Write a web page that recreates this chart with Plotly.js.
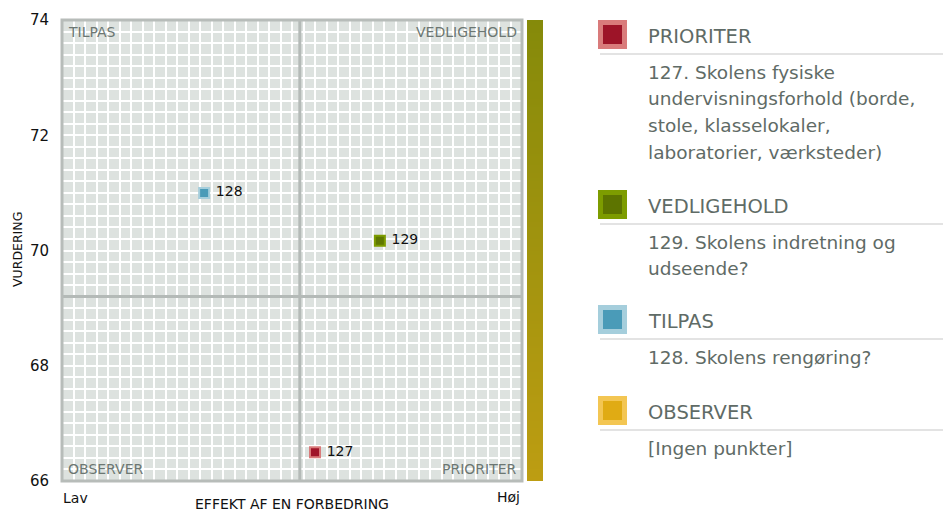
<!DOCTYPE html>
<html>
<head>
<meta charset="utf-8">
<script src="https://cdn.plot.ly/plotly-3.0.1.min.js"></script>
<style>html,body{margin:0;padding:0;background:#fff;}#chart{width:943px;height:511px;}</style>
</head>
<body>
<div id="chart"></div>
<script>
// ---- data ----
const pointLabels = ['127', '128', '129'];
const effekt = [55.0, 30.9, 69.1];          // x: effekt af en forbedring (0-100 scale, Lav..Høj)
const vurdering = [66.5, 71.0, 70.17];      // y: vurdering
const pointFill = ['#a01429', '#4a9bb8', '#5f7800'];
const pointEdge = ['#d97b7b', '#a5cedc', '#7d9c00'];

const midX = 51.7;   // vertical divider (effekt)
const midY = 69.2;   // horizontal divider (vurdering)
const yTicks = [66, 68, 70, 72, 74];

const quadrants = ['TILPAS', 'VEDLIGEHOLD', 'OBSERVER', 'PRIORITER'];

const legendNames = ['PRIORITER', 'VEDLIGEHOLD', 'TILPAS', 'OBSERVER'];
const legendFill = ['#9d1428', '#5d7400', '#4a9bb8', '#e0ab14'];
const legendEdge = ['#d97b7b', '#7d9c00', '#a5cedc', '#f3c653'];
const legendItems = [
  ['127. Skolens fysiske', 'undervisningsforhold (borde,', 'stole, klasselokaler,', 'laboratorier, værksteder)'],
  ['129. Skolens indretning og', 'udseende?'],
  ['128. Skolens rengøring?'],
  ['[Ingen punkter]']
];
const legendTop = [20, 190, 305, 396];   // top px of each legend square

const W = 943, H = 511;
const px = v => v / W;
const py = v => 1 - v / H;
const FONT = 'DejaVu Sans, Verdana, sans-serif';
const TXT = '#5f6b66';

const traces = [
  {
    type: 'heatmap', xaxis: 'x2', yaxis: 'y2',
    x: [0], y: [0, 1], z: [[0], [1]],
    colorscale: [[0, '#bd9d12'], [1, '#858a0a']],
    zsmooth: 'best', showscale: false, hoverinfo: 'skip'
  },
  {
    type: 'scatter', mode: 'markers+text',
    x: effekt, y: vurdering, text: pointLabels.map(s => ' ' + s),
    textposition: 'middle right',
    textfont: {family: FONT, size: 14, color: '#111'},
    marker: {symbol: 'square', size: 10, color: pointFill, line: {color: pointEdge, width: 2}},
    hoverinfo: 'none', cliponaxis: false
  }
];

const shapes = [
  {type: 'line', xref: 'x', yref: 'y domain', x0: midX, x1: midX, y0: 0, y1: 1, line: {color: '#b4bab7', width: 3}, layer: 'above'},
  {type: 'line', xref: 'x domain', yref: 'y', x0: 0, x1: 1, y0: midY, y1: midY, line: {color: '#b4bab7', width: 3}, layer: 'above'},
  {type: 'rect', xref: 'x domain', yref: 'y domain', x0: 0, x1: 1, y0: 0, y1: 1, line: {color: '#b7bcb9', width: 3}, layer: 'above'}
];

const annotations = [
  {text: quadrants[0], xref: 'paper', yref: 'paper', x: px(66), y: py(32), xanchor: 'left', yanchor: 'middle'},
  {text: quadrants[1], xref: 'paper', yref: 'paper', x: px(519), y: py(32), xanchor: 'right', yanchor: 'middle'},
  {text: quadrants[2], xref: 'paper', yref: 'paper', x: px(66), y: py(469), xanchor: 'left', yanchor: 'middle'},
  {text: quadrants[3], xref: 'paper', yref: 'paper', x: px(519), y: py(469), xanchor: 'right', yanchor: 'middle'}
].map(a => Object.assign(a, {showarrow: false, font: {family: FONT, size: 14, color: '#6c7772'}}));

annotations.push(
  {text: 'Lav', x: px(61), y: py(498), xanchor: 'left', yanchor: 'middle', size: 14},
  {text: 'Høj', x: px(522), y: py(497), xanchor: 'right', yanchor: 'middle', size: 14},
  {text: 'EFFEKT AF EN FORBEDRING', x: px(292), y: py(504), xanchor: 'center', yanchor: 'middle', size: 14},
  {text: 'VURDERING', x: px(17), y: py(250), xanchor: 'center', yanchor: 'middle', textangle: -90, size: 12.5}
);
for (let i = annotations.length - 4; i < annotations.length; i++) {
  const a = annotations[i];
  a.xref = 'paper'; a.yref = 'paper'; a.showarrow = false;
  a.font = {family: FONT, size: a.size || 13, color: '#111'};
  delete a.size;
}

legendNames.forEach((name, i) => {
  const t = legendTop[i];
  shapes.push({type: 'rect', xref: 'paper', yref: 'paper', x0: px(598), x1: px(627), y0: py(t), y1: py(t + 29), fillcolor: legendEdge[i], line: {width: 0}});
  shapes.push({type: 'rect', xref: 'paper', yref: 'paper', x0: px(603), x1: px(622), y0: py(t + 5), y1: py(t + 24), fillcolor: legendFill[i], line: {width: 0}});
  shapes.push({type: 'line', xref: 'paper', yref: 'paper', x0: px(600), x1: 1, y0: py(t + 34), y1: py(t + 34), line: {color: '#e3e3e3', width: 2}});
  annotations.push({text: name, xref: 'paper', yref: 'paper', x: px(646), y: py(t + 16), xanchor: 'left', yanchor: 'middle', showarrow: false, font: {family: FONT, size: 19.5, color: TXT}});
  legendItems[i].forEach((line, j) => {
    annotations.push({text: line, xref: 'paper', yref: 'paper', x: px(646), y: py(t + 52 + j * 26.7), xanchor: 'left', yanchor: 'middle', showarrow: false, font: {family: FONT, size: 18.5, color: TXT}});
  });
});

const layout = {
  width: W, height: H,
  margin: {l: 0, r: 0, t: 0, b: 0},
  paper_bgcolor: '#fff', plot_bgcolor: '#dde2df',
  showlegend: false,
  xaxis: {
    domain: [px(62), px(522)], range: [0, 100], dtick: 2.5,
    showgrid: true, gridcolor: '#ffffff', gridwidth: 2,
    showticklabels: false, zeroline: false, ticks: '', fixedrange: true
  },
  yaxis: {
    domain: [30 / H, 491 / H], range: [66, 74], tickvals: yTicks,
    showgrid: true, gridcolor: '#ffffff', gridwidth: 2,
    minor: {dtick: 0.2, showgrid: true, gridcolor: '#ffffff', gridwidth: 2},
    zeroline: false, ticks: 'outside', ticklen: 9, tickcolor: 'rgba(0,0,0,0)',
    tickfont: {family: FONT, size: 15, color: '#111'}, fixedrange: true
  },
  xaxis2: {domain: [px(527), px(543)], range: [-0.5, 0.5], visible: false, anchor: 'y2', fixedrange: true},
  yaxis2: {domain: [30 / H, 491 / H], range: [0, 1], visible: false, anchor: 'x2', fixedrange: true},
  shapes: shapes,
  annotations: annotations,
  font: {family: FONT}
};

Plotly.newPlot('chart', traces, layout, {displayModeBar: false, staticPlot: true});
</script>
</body>
</html>
